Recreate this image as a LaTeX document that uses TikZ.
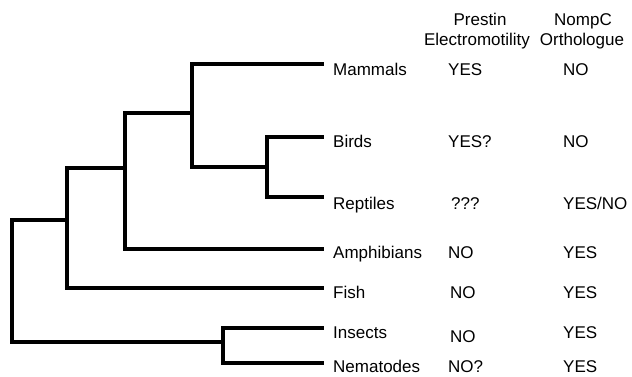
\documentclass[tikz,border=0pt]{standalone}
\usepackage{fontspec}
\setmainfont{Liberation Sans}
\begin{document}
\begin{tikzpicture}[x=1pt,y=-1pt,
  branch/.style={line width=4pt,line cap=rect,line join=miter},
  lbl/.style={anchor=base west,inner sep=0pt,font=\fontsize{17}{20}\selectfont},
  hdr/.style={anchor=base,inner sep=0pt,font=\fontsize{17}{20}\selectfont}]
\useasboundingbox (0,0) rectangle (632,377);
% leaf ends
\coordinate (mam) at (322,64);
\coordinate (bir) at (322,137);
\coordinate (rep) at (322,197);
\coordinate (amp) at (322,249);
\coordinate (fis) at (322,288);
\coordinate (ins) at (322,328);
\coordinate (nem) at (322,363);
% internal nodes
\coordinate (br) at (267,167);
\coordinate (mbr) at (192,113);
\coordinate (a) at (125,168);
\coordinate (f) at (67,220);
\coordinate (in) at (223,342);
\coordinate (root) at (12,281);
% branches
\draw[branch] (mam) -| (mbr |- mam) |- (br) ;
\draw[branch] (bir) -| (br |- bir) -- (br |- rep) -- (rep);
\draw[branch] (mbr) -| (a |- mbr) |- (amp);
\draw[branch] (a) -| (f |- a) |- (fis);
\draw[branch] (f) -| (root |- f) |- (in);
\draw[branch] (ins) -| (in |- ins) -- (in |- nem) -- (nem);
% header
\node[hdr] (h1a) at (480,26) {Prestin};
\node[hdr] (h1b) at (477,46) {Electromotility};
\node[hdr] (h2a) at (583,26) {NompC};
\node[hdr] (h2b) at (582,46) {Orthologue};
% labels
\node[lbl] (lm) at (333,76) {Mammals};
\node[lbl] (lb) at (333,148) {Birds};
\node[lbl] (lr) at (333,209) {Reptiles};
\node[lbl] (la) at (333,258) {Amphibians};
\node[lbl] (lf) at (333,298) {Fish};
\node[lbl] (li) at (333,338) {Insects};
\node[lbl] (ln) at (333,372) {Nematodes};
% prestin column
\node[lbl] (pm) at (448,76) {YES};
\node[lbl] (pb) at (448,148) {YES?};
\node[lbl] (pr) at (451,209) {???};
\node[lbl] (pa) at (448,258) {NO};
\node[lbl] (pf) at (450,298) {NO};
\node[lbl] (pi) at (450,342) {NO};
\node[lbl] (pn) at (448,372) {NO?};
% nompc column
\node[lbl] (nm) at (563,76) {NO};
\node[lbl] (nb) at (563,148) {NO};
\node[lbl] (nr) at (563,209) {YES/NO};
\node[lbl] (na) at (563,258) {YES};
\node[lbl] (nf) at (563,298) {YES};
\node[lbl] (ni) at (563,338) {YES};
\node[lbl] (nn) at (563,372) {YES};
\end{tikzpicture}
\end{document}
